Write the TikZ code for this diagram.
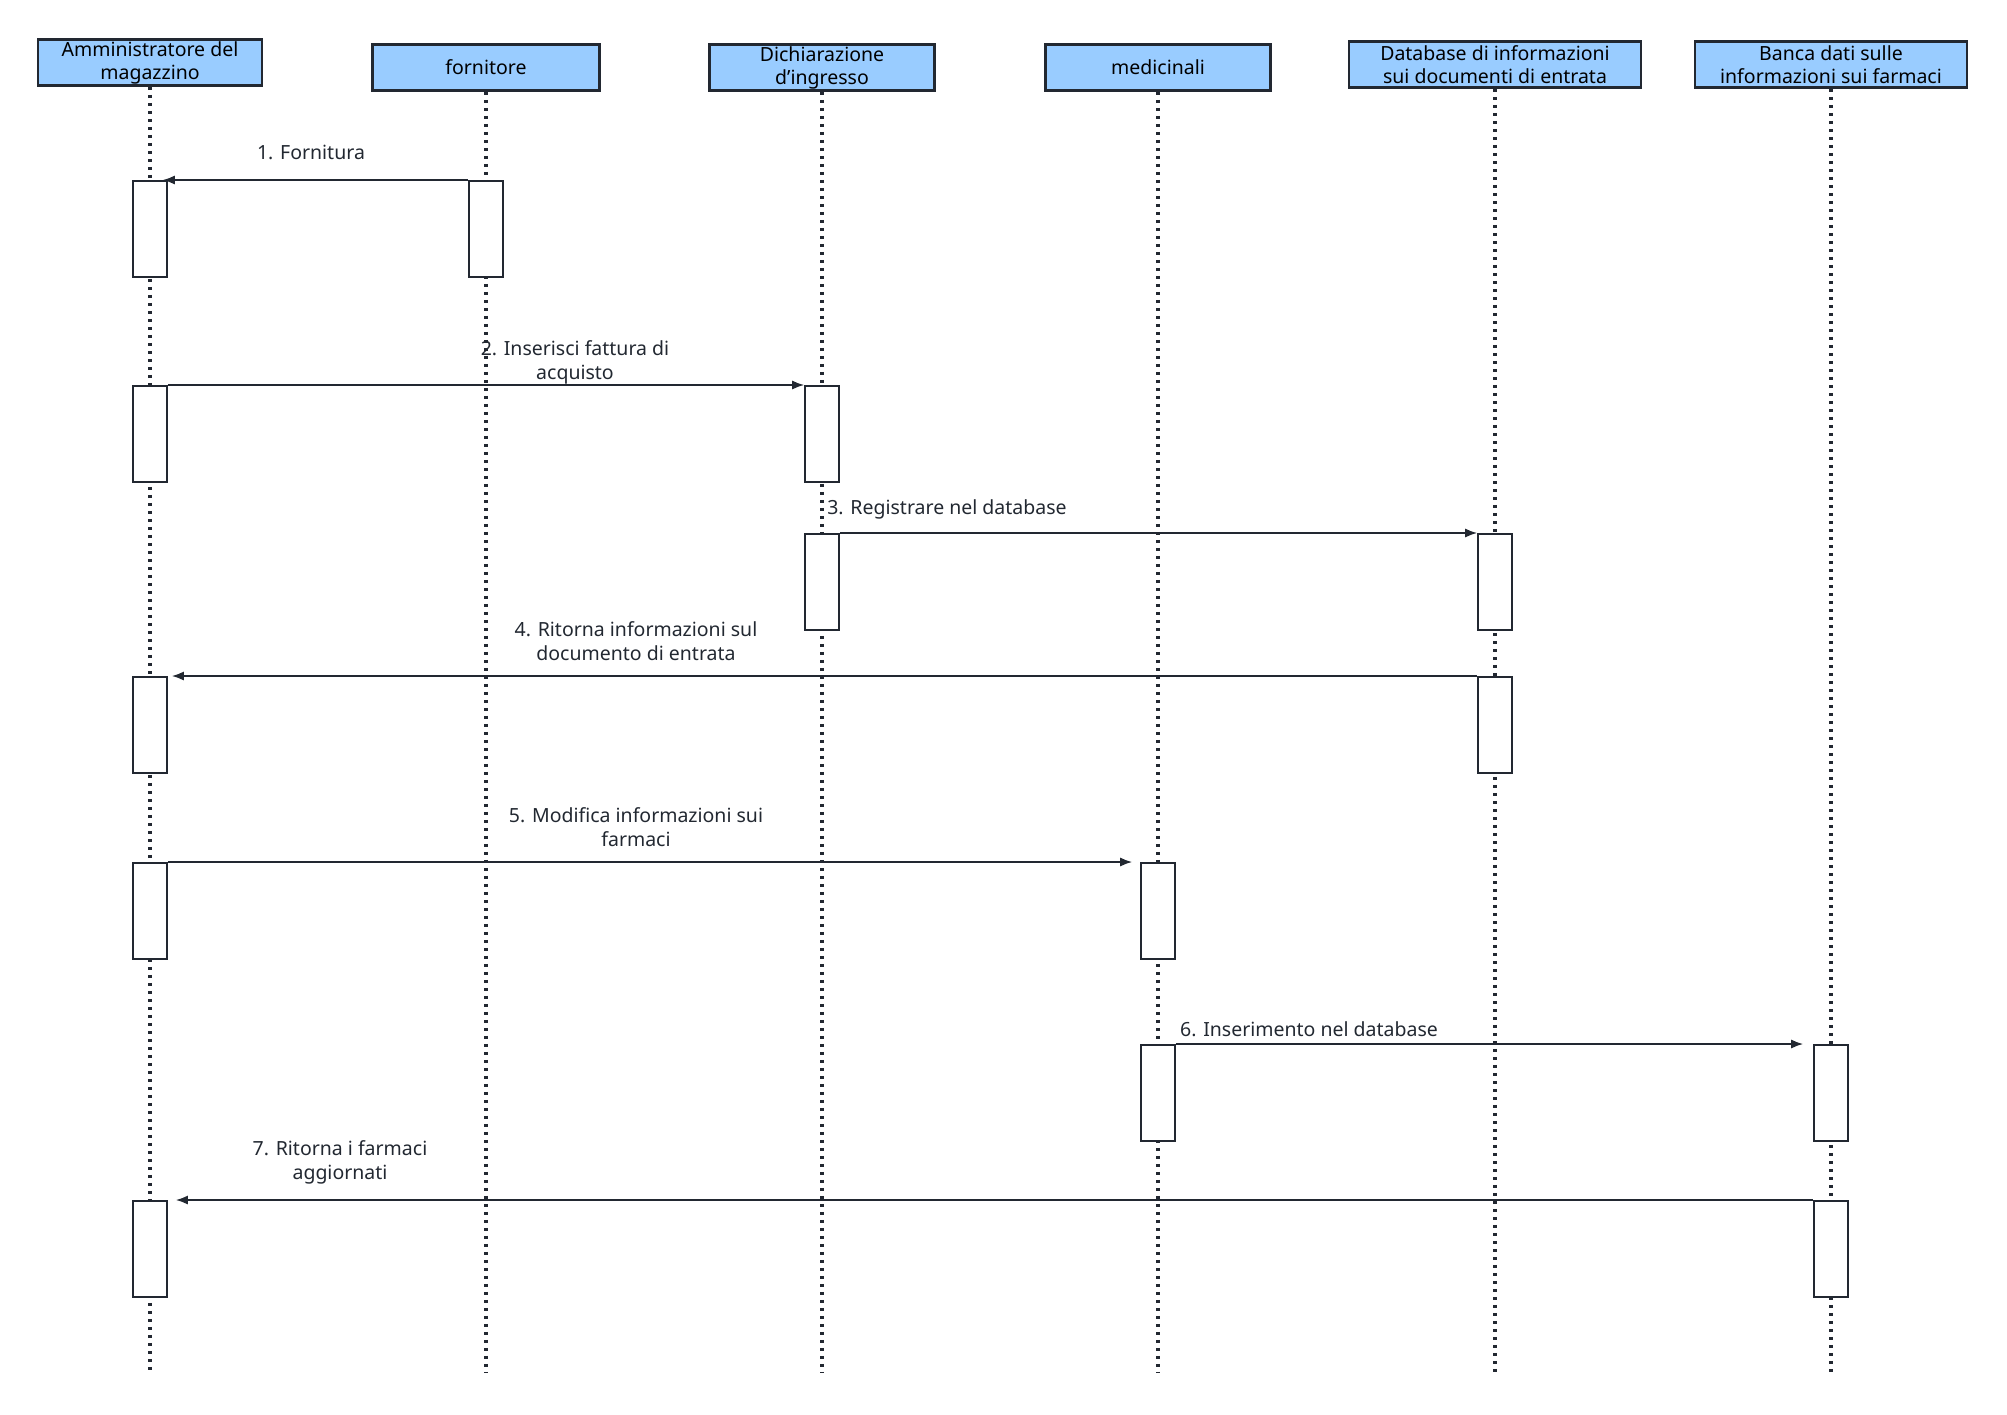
\documentclass[tikz,border=0pt]{standalone}
\usepackage{fontspec}
\setmainfont{Noto Sans}
\usepackage{xcolor}
\usetikzlibrary{arrows.meta,positioning}

\definecolor{headblue}{RGB}{153,204,255}
\definecolor{inkdark}{RGB}{34,40,49}

\tikzset{
  actor/.style={draw=inkdark, line width=2.5pt, fill=headblue, minimum height=46pt,
    align=center, inner sep=0pt, font=\fontsize{19.5}{23}\selectfont},
  act/.style={draw=inkdark, line width=1.6pt, fill=white, minimum width=34pt,
    minimum height=96pt, inner sep=0pt, anchor=north},
  life/.style={line width=3.2pt, dash pattern=on 3.2pt off 4.8pt, inkdark},
  msg/.style={line width=1.6pt, inkdark, -{Latex[length=12pt,width=9pt]}},
  lbl/.style={align=center, inner sep=0pt, text=inkdark, font=\fontsize{19.5}{24}\selectfont}
}

\begin{document}
\begin{tikzpicture}[x=1pt,y=-1pt]
        \useasboundingbox (0,0) rectangle (2007,1414);
        % header boxes
        \node[actor, minimum width=224pt] (adm) at (150,62.5) {Amministratore del\\magazzino};
        \node[actor, minimum width=227pt] (forn) at (486,67.5) {fornitore};
        \node[actor, minimum width=225pt] (dich) at (822,67.5) {Dichiarazione\\d'ingresso};
        \node[actor, minimum width=225pt] (med) at (1158,67.5) {medicinali};
        \node[actor, minimum width=292pt] (dbdoc) at (1495,64.5) {Database di informazioni\\sui documenti di entrata};
        \node[actor, minimum width=272pt] (dbfarm) at (1831,64.5) {Banca dati sulle\\informazioni sui farmaci};
        % lifelines
        \foreach \n in {adm,forn,dich,med,dbdoc,dbfarm}{\draw[life] (\n.south) -- (\n.south |- 0,1373);}
        % activation boxes
        \node[act] (adm1) at (adm.south |- 0,180) {};
        \node[act] (forn1) at (forn.south |- 0,180) {};
        \node[act] (adm2) at (adm.south |- 0,385) {};
        \node[act] (dich2) at (dich.south |- 0,385) {};
        \node[act] (dich3) at (dich.south |- 0,533) {};
        \node[act] (dbdoc3) at (dbdoc.south |- 0,533) {};
        \node[act] (dbdoc4) at (dbdoc.south |- 0,676) {};
        \node[act] (adm4) at (adm.south |- 0,676) {};
        \node[act] (adm5) at (adm.south |- 0,862) {};
        \node[act] (med5) at (med.south |- 0,862) {};
        \node[act] (med6) at (med.south |- 0,1044) {};
        \node[act] (dbfarm6) at (dbfarm.south |- 0,1044) {};
        \node[act] (dbfarm7) at (dbfarm.south |- 0,1200) {};
        \node[act] (adm7) at (adm.south |- 0,1200) {};
        % messages
        \draw[msg, shorten >=-5pt] (forn1.north west) -- (adm1.north east);
        \draw[msg] (adm2.north east) -- (dich2.north west);
        \draw[msg] (dich3.north east) -- (dbdoc3.north west);
        \draw[msg, shorten >=4pt] (dbdoc4.north west) -- (adm4.north east);
        \draw[msg, shorten >=8pt] (adm5.north east) -- (med5.north west);
        \draw[msg, shorten >=10pt] (med6.north east) -- (dbfarm6.north west);
        \draw[msg, shorten >=8pt] (dbfarm7.north west) -- (adm7.north east);
        % labels
        \node[lbl] (l1) at (311,152) {1. Fornitura};
        \node[lbl] (l2) at (575,362) {2. Inserisci fattura di\\acquisto};
        \node[lbl] (l3) at (947,509) {3. Registrare nel database};
        \node[lbl] (l4) at (636,641) {4. Ritorna informazioni sul\\documento di entrata};
        \node[lbl] (l5) at (636,827) {5. Modifica informazioni sui\\farmaci};
        \node[lbl] (l6) at (1309,1029) {6. Inserimento nel database};
        \node[lbl] (l7) at (340,1162) {7. Ritorna i farmaci\\aggiornati};
    \end{tikzpicture}
\end{document}
